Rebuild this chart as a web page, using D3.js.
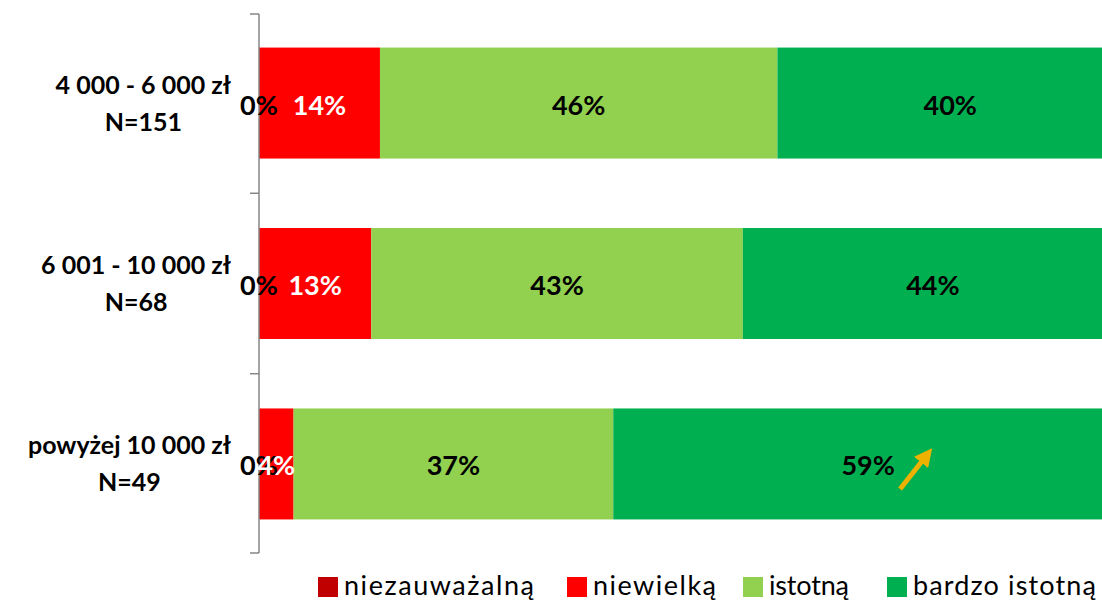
<!DOCTYPE html>
<html>
<head>
<meta charset="utf-8">
<script src="https://cdn.jsdelivr.net/npm/d3@7"></script>
<style>
  body { margin: 0; background: #fff; }
  text { font-family: Lato, "Open Sans", sans-serif; }
</style>
</head>
<body>
<svg></svg>
<script>
var width = 1102;
var height = 601;

// data
var groups = ["4 000 - 6 000 zł", "6 001 - 10 000 zł", "powyżej 10 000 zł"];
var groupN = ["N=151", "N=68", "N=49"];
var series = ["niezauważalną", "niewielką", "istotną", "bardzo istotną"];
var colors = ["#C00000", "#FF0000", "#92D050", "#00B050"];
var labelColors = ["#000", "#fff", "#000", "#000"];
var niezauwazalna = [0, 0, 0];
var niewielka = [14, 13, 4];
var istotna = [46, 43, 37];
var bardzoIstotna = [40, 44, 59];

// legend text widths and gaps (the original font is narrower than Lato)
var legendTextWidths = [190, 123, 80, 183];
var legendGaps = [33, 27, 38];

var rows = groups.map((g, i) => ({
  group: g,
  n: groupN[i],
  "niezauważalną": niezauwazalna[i],
  "niewielką": niewielka[i],
  "istotną": istotna[i],
  "bardzo istotną": bardzoIstotna[i]
}));

var stacked = d3.stack().keys(series)(rows);

var svg = d3.select("svg")
    .attr("width", width)
    .attr("height", height);

var x = d3.scaleLinear()
    .domain([0, 100])
    .range([259, 1123]);

var y = d3.scaleBand()
    .domain(groups)
    .range([14, 553])
    .paddingInner(0.385)
    .paddingOuter(0.186);

// bars
var layers = svg.append("g")
  .selectAll("g")
  .data(stacked)
  .enter()
  .append("g")
    .attr("fill", (d, i) => colors[i]);

layers.selectAll("rect")
  .data(d => d)
  .enter()
  .append("rect")
    .attr("x", d => x(d[0]))
    .attr("y", d => y(d.data.group))
    .attr("width", d => x(d[1]) - x(d[0]))
    .attr("height", y.bandwidth());

// axis with ticks on band boundaries
var axisG = svg.append("g").attr("stroke", "#868686").attr("stroke-width", 1.5);
var y0 = y.range()[0], y1 = y.range()[1];
axisG.append("line")
    .attr("x1", x(0)).attr("x2", x(0))
    .attr("y1", y0).attr("y2", y1);
var tickYs = [y0].concat(groups.slice(1).map(g => y(g) - y.step() * y.paddingInner() / 2)).concat([y1]);
axisG.selectAll(".tick")
  .data(tickYs)
  .enter()
  .append("line")
    .attr("x1", x(0) - 9).attr("x2", x(0))
    .attr("y1", d => d).attr("y2", d => d);

// data labels
var labelG = svg.append("g");
stacked.forEach((layer, si) => {
  labelG.selectAll(".lbl" + si)
    .data(layer)
    .enter()
    .append("text")
      .attr("x", d => x((d[0] + d[1]) / 2))
      .attr("y", d => y(d.data.group) + y.bandwidth() / 2 + 1)
      .attr("text-anchor", "middle")
      .attr("dominant-baseline", "central")
      .attr("fill", labelColors[si])
      .style("font-size", "27px")
      .style("font-weight", "bold")
      .text(d => (d[1] - d[0]) + "%");
});

// category labels, lines centred, block right-aligned
var catG = svg.append("g");
rows.forEach(r => {
  var cy = y(r.group) + y.bandwidth() / 2;
  var t = catG.append("text")
      .attr("text-anchor", "middle")
      .style("font-size", "25px")
      .style("font-weight", "bold")
      .attr("fill", "#000");
  t.append("tspan").attr("y", cy - 9.5).text(r.group);
  t.append("tspan").attr("y", cy + 27.5).text(r.n);
  var w = d3.max(t.selectAll("tspan").nodes(), n => n.getComputedTextLength());
  t.selectAll("tspan").attr("x", 231 - w / 2);
});

// arrow annotation near the last bar
svg.append("defs").append("marker")
    .attr("id", "head")
    .attr("viewBox", "0 0 10 10")
    .attr("refX", 6).attr("refY", 5)
    .attr("markerWidth", 3.6).attr("markerHeight", 3.6)
    .attr("orient", "auto")
  .append("path")
    .attr("d", "M0,0 L10,5 L0,10 Z")
    .attr("fill", "#EDB100");

var lastBand = y(groups[2]) + y.bandwidth() / 2;
svg.append("line")
    .attr("x1", x(74.2)).attr("y1", lastBand + 25)
    .attr("x2", x(77.4)).attr("y2", lastBand - 10)
    .attr("stroke", "#EDB100")
    .attr("stroke-width", 5)
    .attr("marker-end", "url(#head)");

// legend
var legend = svg.append("g").attr("transform", "translate(318, 595)");
var lx = 0;
series.forEach((s, i) => {
  var item = legend.append("g").attr("transform", `translate(${lx}, 0)`);
  item.append("rect")
      .attr("x", 0).attr("y", -18)
      .attr("width", 20).attr("height", 20)
      .attr("fill", colors[i]);
  item.append("text")
      .attr("x", 26)
      .style("font-size", "27px")
      .attr("fill", "#000")
      .attr("textLength", legendTextWidths[i])
      .attr("lengthAdjust", "spacing")
      .text(s);
  lx += 26 + legendTextWidths[i] + (legendGaps[i] || 0);
});
</script>
</body>
</html>
